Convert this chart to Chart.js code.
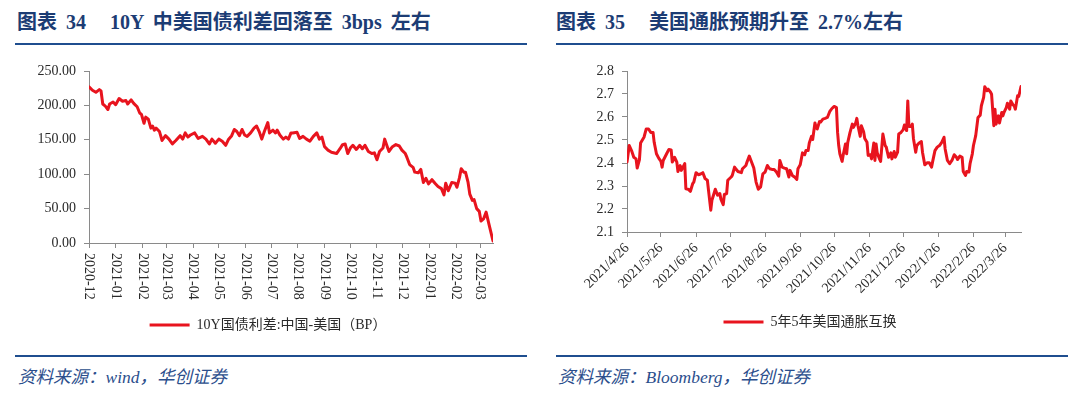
<!DOCTYPE html>
<html><head><meta charset="utf-8">
<script src="https://cdn.jsdelivr.net/npm/chart.js@4/dist/chart.umd.min.js"></script>
<style>
html,body{margin:0;padding:0;background:#fff;}
body{width:1080px;height:396px;position:relative;overflow:hidden;}
.title{position:absolute;top:9px;font-family:'Liberation Serif','Noto Sans CJK SC',serif;font-weight:bold;font-size:20px;line-height:26px;color:#1c3c74;white-space:nowrap;word-spacing:4px;}
.rule{position:absolute;height:2px;background:#1f4e8f;}
.src{position:absolute;top:366px;font-family:'Liberation Serif','Noto Sans CJK SC',serif;font-style:italic;font-size:17.5px;line-height:22px;color:#2b4e8c;white-space:nowrap;}
canvas{position:absolute;top:50px;}
</style></head><body>
<div class="title" style="left:17px">图表 34<span style="margin-left:24px">10Y 中美国债利差回落至 3bps 左右</span></div>
<div class="title" style="left:556px">图表 35<span style="margin-left:24px">美国通胀预期升至 2.7%左右</span></div>
<div class="rule" style="left:15px;top:43px;width:512px"></div>
<div class="rule" style="left:556px;top:43px;width:512px"></div>
<canvas id="c1" width="540" height="300" style="left:0px;width:540px;height:300px"></canvas>
<canvas id="c2" width="540" height="300" style="left:540px;width:540px;height:300px"></canvas>
<div class="rule" style="left:15px;top:355px;width:512px"></div>
<div class="rule" style="left:556px;top:355px;width:512px"></div>
<div class="src" style="left:18px">资料来源：wind，华创证券</div>
<div class="src" style="left:558px">资料来源：Bloomberg，华创证券</div>
<script>
// ---- Chart 34: 10Y China-US government bond spread (BP) ----
const spreadDates = ['2020-12-01','2020-12-05','2020-12-09','2020-12-13','2020-12-15','2020-12-17','2020-12-20','2020-12-23','2020-12-25','2020-12-29',
'2021-01-01','2021-01-05','2021-01-09','2021-01-13','2021-01-15','2021-01-19','2021-01-22','2021-01-26','2021-01-29','2021-01-31',
'2021-02-03','2021-02-05','2021-02-08','2021-02-11','2021-02-13','2021-02-15','2021-02-17','2021-02-21','2021-02-24','2021-02-28',
'2021-03-04','2021-03-08','2021-03-12','2021-03-17','2021-03-20','2021-03-23','2021-03-26','2021-03-29',
'2021-04-03','2021-04-07','2021-04-12','2021-04-16','2021-04-20','2021-04-23','2021-04-27',
'2021-05-01','2021-05-05','2021-05-09','2021-05-12','2021-05-16','2021-05-19','2021-05-22','2021-05-25','2021-05-28','2021-05-31',
'2021-06-03','2021-06-07','2021-06-11','2021-06-14','2021-06-17','2021-06-20','2021-06-23','2021-06-27','2021-06-29',
'2021-07-03','2021-07-06','2021-07-08','2021-07-11','2021-07-15','2021-07-18','2021-07-21','2021-07-24','2021-07-26','2021-07-31',
'2021-08-03','2021-08-07','2021-08-11','2021-08-15','2021-08-19','2021-08-23','2021-08-26','2021-08-29',
'2021-09-01','2021-09-05','2021-09-09','2021-09-15','2021-09-19','2021-09-22','2021-09-25','2021-09-28',
'2021-10-01','2021-10-04','2021-10-08','2021-10-12','2021-10-15','2021-10-18','2021-10-22','2021-10-26','2021-10-29',
'2021-11-01','2021-11-04','2021-11-08','2021-11-10','2021-11-13','2021-11-15','2021-11-19','2021-11-23','2021-11-27','2021-11-30',
'2021-12-04','2021-12-06','2021-12-09','2021-12-13','2021-12-15','2021-12-19','2021-12-22','2021-12-25','2021-12-28','2021-12-31',
'2022-01-04','2022-01-08','2022-01-11','2022-01-15','2022-01-18','2022-01-20','2022-01-23','2022-01-27','2022-01-31',
'2022-02-02','2022-02-05','2022-02-07','2022-02-10','2022-02-12','2022-02-15','2022-02-17','2022-02-20','2022-02-22','2022-02-25','2022-02-28',
'2022-03-02','2022-03-05','2022-03-08','2022-03-11','2022-03-16'];
const spreadValues = [227,222,219,223,221,202,199,194,202,205,
201,210,206,207,202,208,203,198,189,187,
174,183,180,167,170,164,167,162,149,156,
151,144,149,156,151,160,154,157,
160,152,155,151,144,151,145,
151,148,142,150,156,165,162,156,165,157,
155,160,167,170,162,151,162,175,160,
164,160,164,157,151,154,151,160,160,161,
152,155,151,148,155,160,151,154,
140,135,132,130,137,143,144,130,
138,142,136,142,137,142,133,130,131,
121,133,138,151,140,133,140,143,141,135,
130,124,114,110,103,102,107,88,94,86,
92,86,82,79,70,87,76,88,87,
81,95,108,103,103,88,71,62,63,50,46,
32,35,45,29,3];
const spreadTickLabels = ['2020-12','2021-01','2021-02','2021-03','2021-04','2021-05','2021-06','2021-07','2021-08','2021-09','2021-10','2021-11','2021-12','2022-01','2022-02','2022-03'];
const spreadYTicks = [0,50,100,150,200,250];
const spreadLabel = '10Y国债利差:中国-美国（BP）';

// ---- Chart 35: US 5y5y inflation swap ----
const inflStart = '2021-04-26';
// days since 2021-04-26
const inflDay = [0,2,4,6,8,9,11,12,15,17,19,21,23,24,26,28,30,31,32,35,37,39,40,42,44,45,47,48,51,52,54,56,58,59,61,63,65,67,69,71,72,74,75,78,80,82,83,85,86,88,89,92,93,95,96,98,101,102,105,106,108,110,112,114,116,118,120,122,124,126,128,130,132,134,135,137,139,141,143,144,146,148,150,151,153,155,157,158,160,161,163,164,166,167,168,170,171,173,175,177,179,181,183,185,186,187,188,190,191,193,194,195,197,199,200,202,203,204,206,207,209,210,212,213,215,216,218,219,220,221,223,224,226,228,229,231,233,234,236,237,239,240,242,244,245,247,248,249,251,252,253,255,256,258,260,261,263,265,267,269,270,272,274,276,278,280,281,283,285,287,289,291,292,294,296,297,299,300,302,303,305,306,308,310,312,313,315,316,318,319,321,322,324,325,326,328,329,331,332,333,335,336,338,339,341,342,343,345,346,348];
const inflValues = [2.404,2.476,2.454,2.425,2.418,2.378,2.415,2.487,2.512,2.548,2.548,2.533,2.533,2.490,2.440,2.421,2.407,2.382,2.411,2.440,2.459,2.457,2.404,2.425,2.404,2.363,2.389,2.368,2.397,2.288,2.286,2.277,2.310,2.317,2.358,2.349,2.352,2.358,2.332,2.325,2.281,2.195,2.238,2.286,2.260,2.267,2.242,2.219,2.263,2.267,2.325,2.339,2.346,2.382,2.375,2.363,2.358,2.375,2.389,2.404,2.430,2.404,2.378,2.317,2.286,2.296,2.353,2.361,2.389,2.375,2.372,2.372,2.361,2.343,2.411,2.382,2.378,2.375,2.339,2.368,2.346,2.339,2.329,2.375,2.392,2.444,2.436,2.454,2.454,2.487,2.516,2.502,2.574,2.555,2.548,2.580,2.578,2.591,2.594,2.598,2.623,2.637,2.646,2.641,2.533,2.476,2.440,2.407,2.436,2.483,2.440,2.490,2.533,2.569,2.555,2.574,2.594,2.562,2.516,2.562,2.536,2.507,2.490,2.433,2.436,2.418,2.487,2.411,2.483,2.444,2.418,2.407,2.526,2.476,2.469,2.425,2.444,2.418,2.450,2.425,2.447,2.526,2.533,2.545,2.565,2.541,2.670,2.559,2.559,2.569,2.507,2.447,2.476,2.487,2.493,2.447,2.392,2.401,2.401,2.382,2.407,2.454,2.469,2.476,2.490,2.512,2.461,2.411,2.397,2.411,2.436,2.425,2.415,2.430,2.425,2.363,2.346,2.363,2.361,2.397,2.440,2.476,2.519,2.598,2.608,2.649,2.685,2.732,2.714,2.721,2.709,2.699,2.562,2.634,2.569,2.605,2.574,2.620,2.605,2.620,2.641,2.660,2.634,2.670,2.652,2.649,2.634,2.692,2.689,2.732];
const inflTickLabels = ['2021/4/26','2021/5/26','2021/6/26','2021/7/26','2021/8/26','2021/9/26','2021/10/26','2021/11/26','2021/12/26','2022/1/26','2022/2/26','2022/3/26'];
const inflYTicks = [2.1,2.2,2.3,2.4,2.5,2.6,2.7,2.8];
const inflLabel = '5年5年美国通胀互换';

// ---- helpers ----
const RED = '#e8141e';
const AXIS = '#8a8a8a';
const TXT = '#2a2a2a';
const FAM = "'Liberation Serif','Noto Sans CJK SC',serif";
const DAY = 86400000;
function utc(y, m, d) { return Date.UTC(y, m - 1, d); }
function parseDash(s) { const p = s.split('-').map(Number); return utc(p[0], p[1], p[2] || 1); }
function parseSlash(s) { const p = s.split('/').map(Number); return utc(p[0], p[1], p[2]); }

const spreadBase = parseDash(spreadDates[0]);
const spreadPts = spreadDates.map((d, i) => ({ x: Math.round((parseDash(d) - spreadBase) / DAY), y: spreadValues[i] }));
const spreadTickDays = spreadTickLabels.map(s => Math.round((parseDash(s) - spreadBase) / DAY));

const inflBase = parseDash(inflStart);
const inflPts = inflDay.map((d, i) => ({ x: d, y: inflValues[i] }));
const inflTickDays = inflTickLabels.map(s => Math.round((parseSlash(s) - inflBase) / DAY));

function axisCommon() {
  return {
    grid: { display: true, drawOnChartArea: false, drawTicks: true, tickLength: 5, color: AXIS, lineWidth: 1 },
    border: { display: true, color: AXIS, width: 1 }
  };
}

// labels on chart 34's x axis read top-to-bottom (rotated clockwise)
const verticalTickLabels = {
  id: 'verticalTickLabels',
  afterDraw(chart) {
    const s = chart.scales.x, ctx = chart.ctx;
    ctx.save();
    ctx.font = '14px ' + FAM;
    ctx.fillStyle = TXT;
    ctx.textAlign = 'left';
    ctx.textBaseline = 'middle';
    s.ticks.forEach((t, i) => {
      const x = s.getPixelForValue(t.value);
      ctx.save();
      ctx.translate(x, s.top + 10);
      ctx.rotate(Math.PI / 2);
      ctx.fillText(spreadTickLabels[i], 0, 0);
      ctx.restore();
    });
    ctx.restore();
  }
};

// centre the legend on the panel (not on the plot box)
function legendCentre(cx) {
  return {
    id: 'legendCentre',
    afterLayout(chart) {
      const lg = chart.legend;
      if (!lg) return;
      const dx = cx - (lg.left + lg.right) / 2;
      lg.left += dx; lg.right += dx;
    }
  };
}

function legendOpts() {
  return {
    display: true, position: 'bottom',
    labels: { usePointStyle: true, pointStyle: 'line', pointStyleWidth: 40, padding: 10, color: TXT, font: { family: FAM, size: 14 } }
  };
}

new Chart(document.getElementById('c1'), {
  type: 'line',
  data: { datasets: [{ label: spreadLabel, data: spreadPts, borderColor: RED, backgroundColor: RED, borderWidth: 3, pointRadius: 0, tension: 0, borderJoinStyle: 'round', borderCapStyle: 'round' }] },
  options: {
    responsive: false, animation: false, devicePixelRatio: 1,
    layout: { padding: { left: 0, right: 47, top: 21, bottom: 8 } },
    plugins: { legend: legendOpts(), tooltip: { enabled: false } },
    scales: {
      x: Object.assign(axisCommon(), {
        type: 'linear', min: 0, max: spreadPts[spreadPts.length - 1].x,
        afterBuildTicks: s => { s.ticks = spreadTickDays.map(v => ({ value: v })); },
        afterFit: s => { s.height = 65; },
        ticks: { display: false }
      }),
      y: Object.assign(axisCommon(), {
        type: 'linear', min: 0, max: 250,
        afterBuildTicks: s => { s.ticks = spreadYTicks.map(v => ({ value: v })); },
        afterFit: s => { s.width = 89; },
        ticks: { callback: v => Number(v).toFixed(2), color: TXT, padding: 8, font: { family: FAM, size: 14 } }
      })
    }
  },
  plugins: [verticalTickLabels, legendCentre(268)]
});

new Chart(document.getElementById('c2'), {
  type: 'line',
  data: { datasets: [{ label: inflLabel, data: inflPts, borderColor: RED, backgroundColor: RED, borderWidth: 3, pointRadius: 0, tension: 0, borderJoinStyle: 'round', borderCapStyle: 'round' }] },
  options: {
    responsive: false, animation: false, devicePixelRatio: 1,
    layout: { padding: { left: 0, right: 59, top: 21, bottom: 11 } },
    plugins: { legend: legendOpts(), tooltip: { enabled: false } },
    scales: {
      x: Object.assign(axisCommon(), {
        type: 'linear', min: 0, max: inflDay[inflDay.length - 1],
        afterBuildTicks: s => { s.ticks = inflTickDays.map(v => ({ value: v })); },
        afterFit: s => { s.height = 73; },
        ticks: { autoSkip: false, minRotation: 45, maxRotation: 45, padding: 3, color: TXT, font: { family: FAM, size: 14 },
          callback: (v, i) => inflTickLabels[i] }
      }),
      y: Object.assign(axisCommon(), {
        type: 'linear', min: 2.1, max: 2.8,
        afterBuildTicks: s => { s.ticks = inflYTicks.map(v => ({ value: v })); },
        afterFit: s => { s.width = 87; },
        ticks: { callback: v => Number(v).toFixed(1), color: TXT, padding: 8, font: { family: FAM, size: 14 } }
      })
    }
  },
  plugins: [legendCentre(270)]
});
</script>
</body></html>
